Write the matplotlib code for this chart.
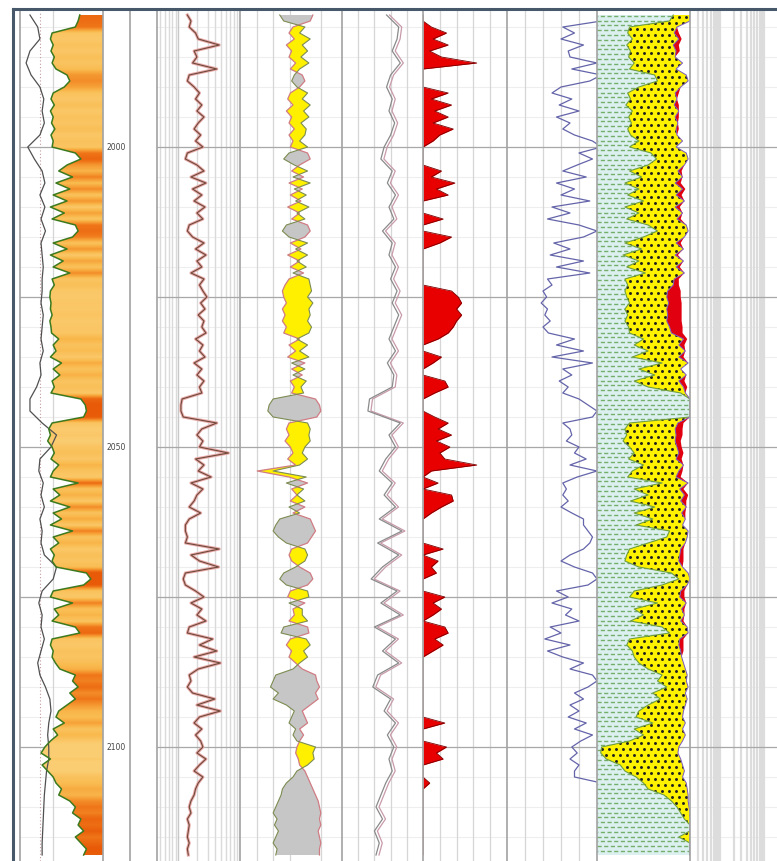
import matplotlib.pyplot as plt
import numpy as np
from matplotlib.colors import LinearSegmentedColormap, Normalize
from matplotlib.collections import LineCollection
from matplotlib.lines import Line2D
import matplotlib.transforms as mtransforms

# depth index (1 m) and a coarser 2 m index for the smooth curves
DEPTH = np.arange(1978, 2119)
DEPTH_2M = np.arange(1978, 2119, 2)
DEPTH_LABELS = [2000, 2050, 2100]
MAJOR_DEPTHS = [2000, 2025, 2050, 2075, 2100]
MINOR_DEPTHS = np.arange(1980, 2119, 5)

# track 1: gamma ray (API) and caliper (same scale)
GR = [108, 105, 100, 58, 55, 60, 56, 62, 58, 65,
      85, 90, 80, 60, 56, 62, 55, 60, 57, 63,
      56, 60, 58, 100, 110, 85, 70, 95, 65, 90,
      60, 85, 55, 80, 58, 100, 105, 95, 60, 85,
      55, 78, 60, 90, 58, 62, 55, 54, 56, 55,
      58, 54, 56, 57, 70, 60, 65, 55, 75, 60,
      72, 58, 62, 56, 110, 118, 120, 115, 58, 52,
      55, 50, 58, 62, 56, 70, 60, 55, 105, 60,
      72, 55, 90, 60, 75, 55, 95, 60, 70, 55,
      62, 58, 65, 120, 128, 115, 60, 55, 95, 62,
      70, 58, 100, 108, 58, 55, 60, 58, 64, 72,
      100, 95, 105, 90, 100, 85, 70, 65, 80, 60,
      68, 55, 45, 38, 55, 40, 50, 60, 65, 75,
      70, 90, 100, 95, 110, 105, 115, 100, 110, 120,
      115]
CALI = [18, 32, 36, 18, 11, 20, 36, 43, 40, 44,
        36, 14, 26, 40, 45, 36, 45, 38, 46, 38,
        40, 42, 40, 40, 38, 42, 40, 38, 42, 36,
        38, 30, 18, 18, 40, 66, 56, 36, 34, 42,
        38, 44, 36, 40, 38, 44, 66, 60, 40, 34,
        40, 38, 44, 38, 32, 36, 46, 54, 56, 52,
        50, 52, 52, 48, 46, 44, 43, 42, 41, 40,
        40]

# track 2: resistivity (log scale)
RES = [1.4, 1.6, 1.5, 1.9, 2.1, 4.6, 1.8, 2.0, 1.7, 4.2,
       1.5, 1.4, 1.8, 2.2, 1.9, 2.4, 2.0, 2.6, 2.1, 1.8,
       2.3, 1.9, 2.5, 1.4, 1.3, 2.0, 2.6, 1.6, 2.8, 1.7,
       2.4, 1.8, 2.7, 2.0, 2.5, 1.5, 1.4, 1.7, 2.6, 1.9,
       2.8, 2.0, 2.4, 1.6, 2.6, 2.2, 2.5, 2.9, 2.3, 2.7,
       2.1, 2.6, 2.4, 2.8, 1.9, 2.5, 2.2, 2.7, 1.8, 2.4,
       2.0, 2.6, 2.2, 2.4, 1.15, 1.1, 1.1, 1.2, 4.2, 2.4,
       2.0, 2.5, 2.2, 6.5, 1.9, 2.6, 2.1, 3.4, 1.6, 2.5,
       2.0, 1.8, 1.5, 2.3, 1.5, 1.3, 1.3, 1.4, 1.3, 4.6,
       1.6, 2.2, 4.5, 1.3, 1.2, 1.3, 1.9, 2.6, 1.6, 2.4,
       2.0, 2.8, 1.5, 1.4, 3.6, 2.2, 4.2, 1.8, 4.8, 2.1,
       1.5, 1.6, 1.4, 1.7, 3.9, 2.0, 4.8, 2.2, 1.8, 2.4,
       1.9, 2.3, 2.5, 2.0, 2.8, 2.2, 1.8, 2.5, 2.1, 1.9,
       1.8, 1.6, 1.5, 1.6, 1.4, 1.5, 1.45, 1.4, 1.5, 1.4,
       1.45]

# track 3: density / neutron positions
T3_D = [0.70, 0.68, 0.55, 0.52, 0.56, 0.50, 0.54, 0.52, 0.57, 0.53,
        0.62, 0.64, 0.60, 0.53, 0.51, 0.55, 0.50, 0.54, 0.52, 0.56,
        0.52, 0.55, 0.53, 0.66, 0.68, 0.60, 0.54, 0.63, 0.52, 0.62,
        0.53, 0.61, 0.51, 0.60, 0.54, 0.66, 0.68, 0.64, 0.53, 0.61,
        0.51, 0.60, 0.53, 0.63, 0.52, 0.49, 0.47, 0.48, 0.50, 0.47,
        0.49, 0.47, 0.50, 0.48, 0.60, 0.52, 0.57, 0.51, 0.64, 0.54,
        0.62, 0.53, 0.56, 0.54, 0.72, 0.75, 0.76, 0.73, 0.52, 0.50,
        0.52, 0.49, 0.53, 0.55, 0.51, 0.57, 0.28, 0.52, 0.66, 0.54,
        0.58, 0.53, 0.64, 0.55, 0.68, 0.70, 0.72, 0.69, 0.66, 0.54,
        0.52, 0.54, 0.60, 0.68, 0.70, 0.66, 0.53, 0.51, 0.64, 0.55,
        0.56, 0.52, 0.66, 0.67, 0.53, 0.50, 0.54, 0.52, 0.57, 0.62,
        0.72, 0.73, 0.75, 0.72, 0.74, 0.68, 0.62, 0.64, 0.66, 0.60,
        0.63, 0.60, 0.58, 0.57, 0.59, 0.60, 0.64, 0.66, 0.68, 0.70,
        0.72, 0.74, 0.75, 0.76, 0.75, 0.76, 0.74, 0.75, 0.76, 0.75,
        0.75]
T3_N = [0.45, 0.48, 0.64, 0.60, 0.68, 0.62, 0.66, 0.61, 0.67, 0.60,
        0.56, 0.54, 0.58, 0.66, 0.62, 0.68, 0.63, 0.67, 0.61, 0.65,
        0.64, 0.60, 0.66, 0.52, 0.48, 0.56, 0.66, 0.55, 0.68, 0.56,
        0.65, 0.57, 0.67, 0.58, 0.64, 0.50, 0.47, 0.52, 0.66, 0.57,
        0.66, 0.58, 0.65, 0.55, 0.67, 0.68, 0.69, 0.66, 0.70, 0.67,
        0.68, 0.66, 0.69, 0.67, 0.58, 0.66, 0.60, 0.67, 0.54, 0.64,
        0.55, 0.65, 0.61, 0.63, 0.40, 0.37, 0.36, 0.40, 0.66, 0.68,
        0.67, 0.68, 0.64, 0.62, 0.66, 0.60, 0.40, 0.65, 0.50, 0.63,
        0.58, 0.64, 0.52, 0.60, 0.45, 0.42, 0.40, 0.44, 0.50, 0.64,
        0.66, 0.64, 0.57, 0.48, 0.45, 0.50, 0.66, 0.67, 0.52, 0.62,
        0.62, 0.66, 0.48, 0.46, 0.65, 0.68, 0.63, 0.66, 0.60, 0.55,
        0.42, 0.40, 0.38, 0.44, 0.40, 0.50, 0.56, 0.54, 0.52, 0.57,
        0.55, 0.58, 0.72, 0.70, 0.71, 0.66, 0.58, 0.55, 0.50, 0.47,
        0.46, 0.44, 0.42, 0.40, 0.43, 0.41, 0.44, 0.42, 0.40, 0.43,
        0.42]

# track 4: sonic-like pair (2 m)
T4 = [0.55, 0.70, 0.68, 0.62, 0.72, 0.60, 0.55, 0.62, 0.58, 0.65,
      0.60, 0.52, 0.48, 0.62, 0.56, 0.66, 0.58, 0.64, 0.50, 0.62,
      0.58, 0.66, 0.60, 0.68, 0.62, 0.70, 0.64, 0.58, 0.66, 0.56,
      0.64, 0.62, 0.34, 0.32, 0.72, 0.58, 0.66, 0.54, 0.46, 0.62,
      0.52, 0.66, 0.46, 0.74, 0.44, 0.70, 0.50, 0.36, 0.68, 0.48,
      0.72, 0.40, 0.66, 0.50, 0.70, 0.44, 0.38, 0.60, 0.52, 0.66,
      0.56, 0.64, 0.58, 0.62, 0.54, 0.48, 0.42, 0.50, 0.40, 0.46,
      0.42]

# track 5: red flag fill
T5 = [0, 0, 0.10, 0.28, 0.12, 0.30, 0.08, 0.22, 0.64, 0,
      0, 0, 0, 0.30, 0.10, 0.34, 0.14, 0.30, 0.12, 0.36,
      0.20, 0.12, 0, 0, 0, 0, 0.22, 0.10, 0.38, 0.16,
      0.30, 0, 0, 0, 0.24, 0, 0, 0.34, 0.20, 0,
      0, 0, 0, 0, 0, 0, 0.34, 0.42, 0.46, 0.40,
      0.46, 0.40, 0.36, 0.30, 0.18, 0, 0, 0.22, 0.12, 0,
      0, 0.26, 0.30, 0.14, 0, 0, 0, 0.14, 0.30, 0.18,
      0.34, 0.16, 0.32, 0.20, 0.26, 0.64, 0.10, 0, 0.18, 0,
      0.34, 0.36, 0.22, 0.10, 0, 0, 0, 0, 0, 0.24,
      0, 0.18, 0.10, 0.16, 0, 0, 0, 0.26, 0.12, 0.22,
      0.12, 0, 0.26, 0.30, 0.14, 0.24, 0.12, 0, 0, 0,
      0, 0, 0, 0, 0, 0, 0, 0, 0.26, 0,
      0, 0, 0.28, 0.16, 0.24, 0, 0, 0, 0.08, 0,
      0, 0, 0, 0, 0, 0, 0, 0, 0, 0,
      0]

# track 6: blue curve
T6 = [1.05, 1.05, 0.62, 0.75, 0.60, 0.85, 0.68, 0.70, 1.0, 0.72,
      1.05, 0.92, 0.60, 0.50, 0.72, 0.58, 0.80, 0.55, 0.70, 0.62,
      0.75, 0.95, 1.05, 0.80, 0.95, 0.78, 0.62, 0.88, 0.55, 0.75,
      0.60, 0.92, 0.50, 0.70, 0.45, 0.80, 1.0, 0.85, 0.52, 0.70,
      0.48, 0.85, 0.55, 0.92, 0.45, 0.50, 0.40, 0.44, 0.38, 0.45,
      0.42, 0.48, 0.40, 0.46, 0.75, 0.55, 0.85, 0.50, 0.95, 0.62,
      0.72, 0.58, 0.68, 0.62, 0.80, 0.90, 1.0, 0.95, 0.62, 0.70,
      0.72, 0.66, 0.80, 0.75, 0.88, 0.70, 1.0, 0.78, 0.62, 0.66,
      0.62, 0.68, 0.60, 0.72, 0.85, 0.85, 0.90, 0.95, 0.92, 0.85,
      0.70, 0.60, 0.75, 0.95, 1.0, 0.90, 0.55, 0.68, 0.50, 0.72,
      0.65, 0.80, 0.48, 0.60, 0.42, 0.70, 0.45, 0.62, 0.85, 0.70,
      0.95, 1.0, 0.90, 0.75, 0.85, 0.70, 0.80, 0.68, 0.88, 0.75,
      0.95, 0.82, 0.72, 0.78, 0.70, 0.80, 0.75, 0.75, 1.05, 1.05,
      1.05, 1.05, 1.05, 1.05, 1.05, 1.05, 1.05, 1.05, 1.05, 1.05,
      1.05]

# track 7: lithology volumes (track fraction)
VSH = [0.82, 0.78, 0.35, 0.33, 0.38, 0.32, 0.36, 0.34, 0.40, 0.35,
       0.62, 0.65, 0.45, 0.33, 0.36, 0.31, 0.38, 0.34, 0.37, 0.33,
       0.36, 0.45, 0.35, 0.58, 0.64, 0.55, 0.35, 0.48, 0.30, 0.45,
       0.33, 0.50, 0.30, 0.45, 0.32, 0.55, 0.65, 0.50, 0.30, 0.48,
       0.28, 0.45, 0.32, 0.52, 0.30, 0.33, 0.30, 0.32, 0.35, 0.30,
       0.33, 0.30, 0.34, 0.35, 0.50, 0.40, 0.55, 0.38, 0.70, 0.45,
       0.62, 0.40, 0.55, 0.90, 1.0, 1.0, 1.0, 1.0, 0.35, 0.30,
       0.32, 0.28, 0.35, 0.40, 0.34, 0.50, 0.38, 0.33, 0.70, 0.40,
       0.55, 0.36, 0.62, 0.40, 0.60, 0.42, 0.78, 0.75, 0.55, 0.35,
       0.32, 0.30, 0.45, 0.80, 0.88, 0.70, 0.40, 0.35, 0.65, 0.40,
       0.50, 0.36, 0.70, 0.78, 0.35, 0.32, 0.38, 0.40, 0.45, 0.55,
       0.70, 0.65, 0.75, 0.60, 0.68, 0.55, 0.45, 0.42, 0.60, 0.40,
       0.50, 0.35, 0.05, 0.04, 0.10, 0.25, 0.30, 0.42, 0.50, 0.55,
       0.72, 0.80, 0.86, 0.90, 0.94, 1.0, 1.0, 0.88, 1.0, 1.0,
       1.0]
PHIE = [0, 0, 0.14, 0.17, 0.12, 0.18, 0.15, 0.16, 0.08, 0.15,
        0.04, 0.02, 0.10, 0.16, 0.14, 0.17, 0.12, 0.16, 0.13, 0.15,
        0.14, 0.08, 0.15, 0.04, 0.02, 0.06, 0.13, 0.08, 0.16, 0.08,
        0.15, 0.06, 0.16, 0.08, 0.14, 0.04, 0.02, 0.06, 0.15, 0.07,
        0.16, 0.07, 0.15, 0.06, 0.17, 0.18, 0.24, 0.25, 0.23, 0.25,
        0.24, 0.25, 0.22, 0.20, 0.07, 0.12, 0.05, 0.12, 0.02, 0.10,
        0.04, 0.12, 0.07, 0.05, 0, 0, 0, 0, 0.13, 0.16,
        0.15, 0.16, 0.14, 0.12, 0.15, 0.07, 0.12, 0.15, 0.02, 0.11,
        0.06, 0.10, 0.04, 0.09, 0.05, 0.08, 0.02, 0.03, 0.05, 0.10,
        0.11, 0.12, 0.08, 0.02, 0, 0.03, 0.10, 0.11, 0.04, 0.09,
        0.06, 0.10, 0.03, 0.02, 0.11, 0.12, 0.10, 0.09, 0.07, 0.05,
        0.03, 0.04, 0.02, 0.05, 0.03, 0.05, 0.07, 0.08, 0.05, 0.08,
        0.05, 0.08, 0.12, 0.13, 0.10, 0.08, 0.06, 0.08, 0.04, 0.03,
        0.02, 0.02, 0.01, 0, 0, 0, 0, 0, 0, 0,
        0]
HCF = [0, 0, 0, 0.05, 0.03, 0.06, 0.04, 0, 0, 0,
       0, 0, 0, 0.04, 0, 0.05, 0, 0.04, 0, 0.03,
       0, 0, 0, 0, 0, 0, 0.04, 0, 0.06, 0.03,
       0.06, 0, 0.05, 0, 0.04, 0, 0, 0, 0.05, 0,
       0.03, 0, 0.04, 0, 0.05, 0.06, 0.14, 0.15, 0.14, 0.16,
       0.15, 0.16, 0.14, 0.12, 0.04, 0.06, 0, 0.05, 0, 0,
       0, 0.06, 0.04, 0, 0, 0, 0, 0, 0.06, 0.08,
       0.07, 0.06, 0.05, 0.05, 0.06, 0, 0.04, 0.05, 0, 0.04,
       0.04, 0.06, 0, 0.04, 0, 0, 0, 0, 0, 0.03,
       0.04, 0.05, 0, 0, 0, 0, 0.04, 0.05, 0, 0.03,
       0, 0.03, 0, 0, 0.04, 0.05, 0.03, 0, 0, 0,
       0, 0, 0, 0, 0, 0, 0, 0, 0, 0,
       0, 0, 0, 0, 0, 0, 0, 0, 0, 0,
       0, 0, 0, 0, 0, 0, 0, 0, 0, 0,
       0]

# ---- layout (pixels) ----
W, H = 777, 862
TOP = 12
D_TOP = 2000 + (TOP - 148) / 6.0
D_BOT = 2000 + (H - 148) / 6.0
EDGES = [20, 103, 130, 157, 240, 342, 423, 507, 597, 690]

fig = plt.figure(figsize=(W / 100, H / 100), dpi=100)


def track(x0, x1, xlim, log=False):
    ax = fig.add_axes([x0 / W, 0, (x1 - x0) / W, (H - TOP) / H])
    if log:
        ax.set_xscale('log')
    ax.set_xlim(*xlim)
    ax.set_ylim(D_BOT, D_TOP)
    ax.axis('off')
    return ax


def hgrid(ax):
    for d in MINOR_DEPTHS:
        ax.axhline(d, color='#EEEEEE', lw=0.8, zorder=0)
    for d in MAJOR_DEPTHS:
        ax.axhline(d, color='#A8A8A8', lw=0.9, zorder=0.5)


def vgrid(ax, xs, color='#D6D6D6', lw=0.9):
    for x in xs:
        ax.axvline(x, color=color, lw=lw, zorder=0.2)


gr = np.array(GR, dtype=float)

# track 1
ax1 = track(20, 103, (0, 150))
hgrid(ax1)
ax1.axvline(36, color='#C09A9A', lw=0.8, ls=(0, (1, 2)), zorder=0.3)
ax1.axvline(60, color='#D5D5D5', lw=0.9, zorder=0.3)
cmap = LinearSegmentedColormap.from_list(
    'gr', ['#FBCD72', '#F9BA4E', '#F59A32', '#EF7418', '#E85A08'])
im = ax1.imshow(gr[:, None], cmap=cmap, norm=Normalize(50, 118),
                extent=(0, 150, DEPTH[-1] + 0.5, DEPTH[0] - 0.5),
                aspect='auto', interpolation='bilinear', zorder=1)
poly = ax1.fill_betweenx(DEPTH, gr, 150, facecolor='none', edgecolor='none')
im.set_clip_path(poly.get_paths()[0], transform=ax1.transData)
ax1.plot(CALI, DEPTH_2M, color='#505050', lw=0.9, zorder=3)
ax1.plot(gr, DEPTH, color='#3C7A1E', lw=1.1, zorder=4)
ax1.set_xlim(0, 150)
ax1.set_ylim(D_BOT, D_TOP)

# depth track
axd = track(103, 130, (0, 1))
for d in DEPTH_LABELS:
    axd.text(0.5, d, str(d), ha='center', va='center', fontsize=5.5,
             color='#444444')

# track 2 (log grid)
ax2 = track(157, 240, (0.45, 10), log=True)
hgrid(ax2)
vgrid(ax2, [0.5, 0.6, 0.7, 0.8, 0.9, 2, 3, 4, 5, 6, 7, 8, 9], '#DADADA', 1.0)
vgrid(ax2, [1], '#C8C8C8', 1.0)
ax2.plot(RES, DEPTH, color='#E8A8A8', lw=2.2, zorder=3)
ax2.plot(RES, DEPTH, color='#6E4A3A', lw=0.8, zorder=4)

# track 3 (density / neutron)
d3 = np.array(T3_D)
n3 = np.array(T3_N)
ax3 = track(240, 342, (0.15, 0.92))
hgrid(ax3)
vgrid(ax3, [0.28, 0.40, 0.53, 0.76])
ax3.fill_betweenx(DEPTH, d3, n3, where=n3 >= d3, interpolate=True,
                  color='#FFF000', lw=0, zorder=2)
ax3.fill_betweenx(DEPTH, d3, n3, where=n3 < d3, interpolate=True,
                  color='#C6C6C6', lw=0, zorder=2)
ax3.plot(d3, DEPTH, color='#D07C84', lw=0.9, zorder=3)
ax3.plot(n3, DEPTH, color='#7C8C52', lw=0.8, zorder=3)

# track 4
ax4 = track(342, 423, (0, 1))
hgrid(ax4)
vgrid(ax4, [0.2, 0.4, 0.6, 0.8])
shift = mtransforms.offset_copy(ax4.transData, fig=fig, x=3, y=0, units='dots')
ax4.plot(T4, DEPTH_2M, color='#C89AAA', lw=0.9, zorder=3, transform=shift)
ax4.plot(T4, DEPTH_2M, color='#8A8A8A', lw=0.9, zorder=3)

# track 5 (red fill)
ax5 = track(423, 507, (0, 1))
hgrid(ax5)
vgrid(ax5, [0.2, 0.4, 0.6, 0.8])
ax5.fill_betweenx(DEPTH, 0, T5, color='#E80000', lw=0, zorder=2)
ax5.plot(T5, DEPTH, color='#7A0000', lw=0.6, zorder=3)

# track 6
ax6 = track(507, 597, (0, 1))
hgrid(ax6)
vgrid(ax6, [0.2, 0.4, 0.6, 0.8])
ax6.plot(T6, DEPTH, color='#6464AA', lw=0.9, zorder=3)

# track 7 (lithology)
vsh = np.array(VSH)
mat = np.maximum(vsh, 1 - np.array(PHIE))
hc = mat + np.array(HCF)
ax7 = track(597, 690, (0, 1))
shale = ax7.fill_betweenx(DEPTH, 0, vsh, facecolor='#DCF0F0', lw=0, zorder=1)
shale_path = shale.get_paths()[0]
rows = np.arange(D_TOP, D_BOT, 0.8)
for k, off in enumerate([0, 2.4]):
    segs = [[(0, y), (1, y)] for y in rows[k::2]]
    lc = LineCollection(segs, colors='#74AE6A', linewidths=1.0,
                        linestyles=[(off, (3, 1.8))], zorder=2)
    ax7.add_collection(lc)
    lc.set_clip_path(shale_path, ax7.transData)
sand = ax7.fill_betweenx(DEPTH, vsh, mat, facecolor='#FFF200', lw=0, zorder=1)
gx, gy = np.meshgrid(np.arange(0.02, 1.0, 0.075), np.arange(D_TOP, D_BOT, 1.0))
gx[1::2] += 0.0375
dots = ax7.scatter(gx.ravel(), gy.ravel(), s=4.5, c='#202020', linewidths=0,
                   marker='o', zorder=2)
dots.set_clip_path(sand.get_paths()[0], ax7.transData)
ax7.fill_betweenx(DEPTH, mat, hc, where=np.array(HCF) > 0, interpolate=True,
                  color='#E00010', lw=0, zorder=2)
ax7.plot(vsh, DEPTH, color='#6E9E3C', lw=0.8, zorder=3)
ax7.plot(mat, DEPTH, color='#7A5AC0', lw=0.7, zorder=3)
ax7.set_xlim(0, 1)
ax7.set_ylim(D_BOT, D_TOP)
hgrid(ax7)

# track 8 (log grid only)
ax8 = track(690, 777, (0.2, 20), log=True)
hgrid(ax8)
vgrid(ax8, [0.3, 0.4, 0.5, 0.6, 0.7, 0.8, 0.9, 1, 2, 3, 4, 5, 6, 7, 8, 9, 10],
      '#DCDCDC', 1.6)

# track borders and outer frame
for x in EDGES:
    fig.add_artist(Line2D([x / W, x / W], [0, (H - TOP) / H],
                          color='#A2A2A2', lw=1.2))
fig.add_artist(Line2D([13 / W, 1], [1 - 10 / H, 1 - 10 / H],
                      color='#46586A', lw=2.2))
fig.add_artist(Line2D([13 / W, 13 / W], [0, 1 - 10 / H],
                      color='#46586A', lw=2.2))

fig.savefig('out.png', dpi=100, facecolor='white')
